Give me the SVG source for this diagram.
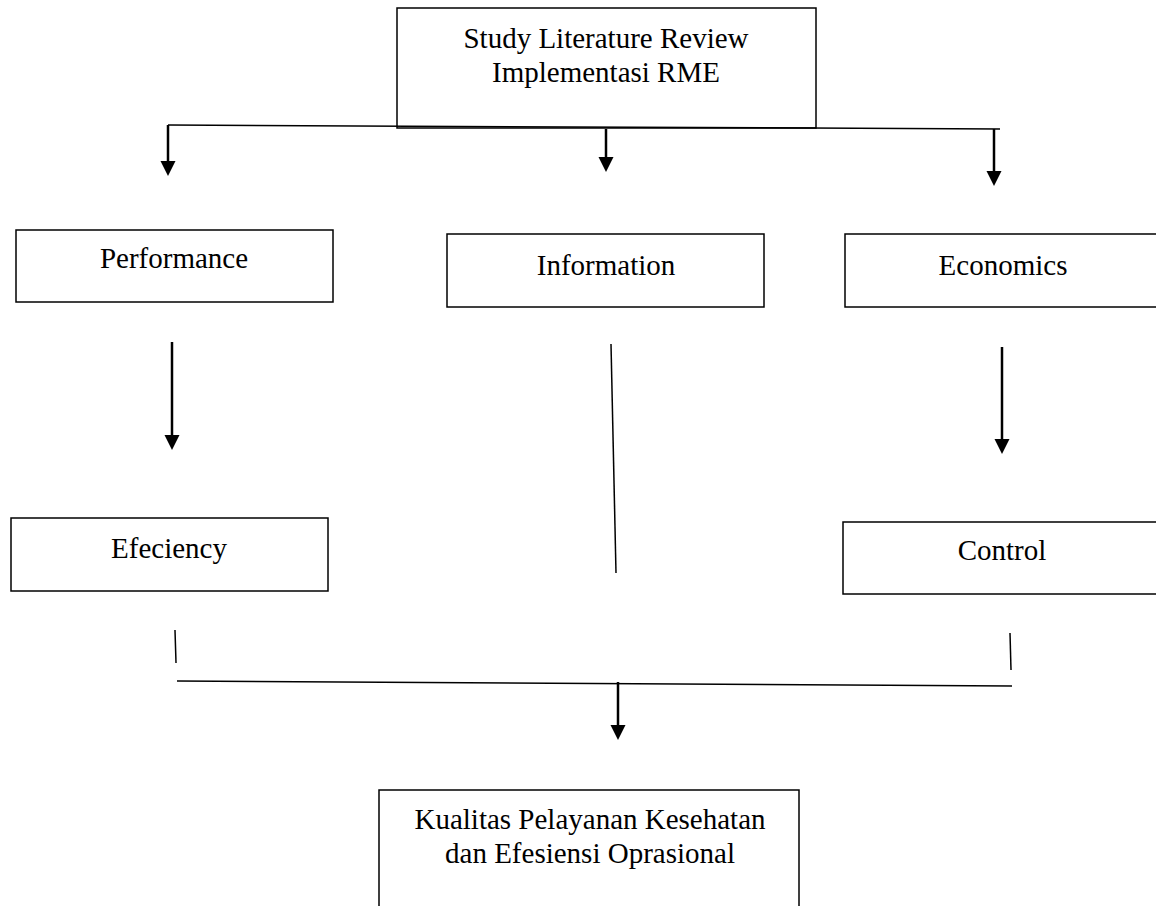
<svg xmlns="http://www.w3.org/2000/svg" width="1156" height="906" viewBox="0 0 1156 906">
<style>
.box{fill:#fff;stroke:#000;stroke-width:1.5}
.t{font-family:"Liberation Serif","Times New Roman",serif;font-size:29px;fill:#000;text-anchor:middle}
.ln{fill:none;stroke:#000;stroke-width:1.5}
.ar{fill:none;stroke:#000;stroke-width:2.5}
</style>
<defs>
<path id="head" d="M-7.5,-15 L7.5,-15 L0,0 Z" fill="#000"/>
</defs>
<rect width="1156" height="906" fill="#fff"/>
<g id="n-study"><rect class="box" x="397" y="8" width="419" height="120"/>
<text class="t" x="606" y="48">Study Literature Review</text>
<text class="t" x="606" y="82">Implementasi RME</text></g>
<g id="n-performance"><rect class="box" x="16" y="230" width="317" height="72"/>
<text class="t" x="174" y="268">Performance</text></g>
<g id="n-information"><rect class="box" x="447" y="234" width="317" height="73"/>
<text class="t" x="606" y="275">Information</text></g>
<g id="n-economics"><rect class="box" x="845" y="234" width="320" height="73"/>
<text class="t" x="1003" y="275">Economics</text></g>
<g id="n-efeciency"><rect class="box" x="11" y="518" width="317" height="73"/>
<text class="t" x="169" y="558">Efeciency</text></g>
<g id="n-control"><rect class="box" x="843" y="522" width="322" height="72"/>
<text class="t" x="1002" y="560">Control</text></g>
<g id="n-kualitas"><rect class="box" x="379" y="790" width="420" height="130"/>
<text class="t" x="590" y="829">Kualitas Pelayanan Kesehatan</text>
<text class="t" x="590" y="863">dan Efesiensi Oprasional</text></g>
<g id="connectors">
<line class="ln" x1="168" y1="125" x2="1000" y2="129"/>
<line class="ar" x1="168" y1="125" x2="168" y2="163"/><use href="#head" x="168" y="176"/>
<line class="ar" x1="606" y1="129" x2="606" y2="159"/><use href="#head" x="606" y="172"/>
<line class="ar" x1="994" y1="129" x2="994" y2="173"/><use href="#head" x="994" y="186"/>
<line class="ar" x1="172" y1="342" x2="172" y2="437"/><use href="#head" x="172" y="450"/>
<line class="ln" x1="611" y1="344" x2="616" y2="573"/>
<line class="ar" x1="1002" y1="347" x2="1002" y2="441"/><use href="#head" x="1002" y="454"/>
<line class="ln" x1="175" y1="630" x2="176" y2="663"/>
<line class="ln" x1="1010" y1="633" x2="1011" y2="670"/>
<line class="ln" x1="177" y1="681" x2="1012" y2="686"/>
<line class="ar" x1="618" y1="682" x2="618" y2="727"/><use href="#head" x="618" y="740"/>
</g>
</svg>
